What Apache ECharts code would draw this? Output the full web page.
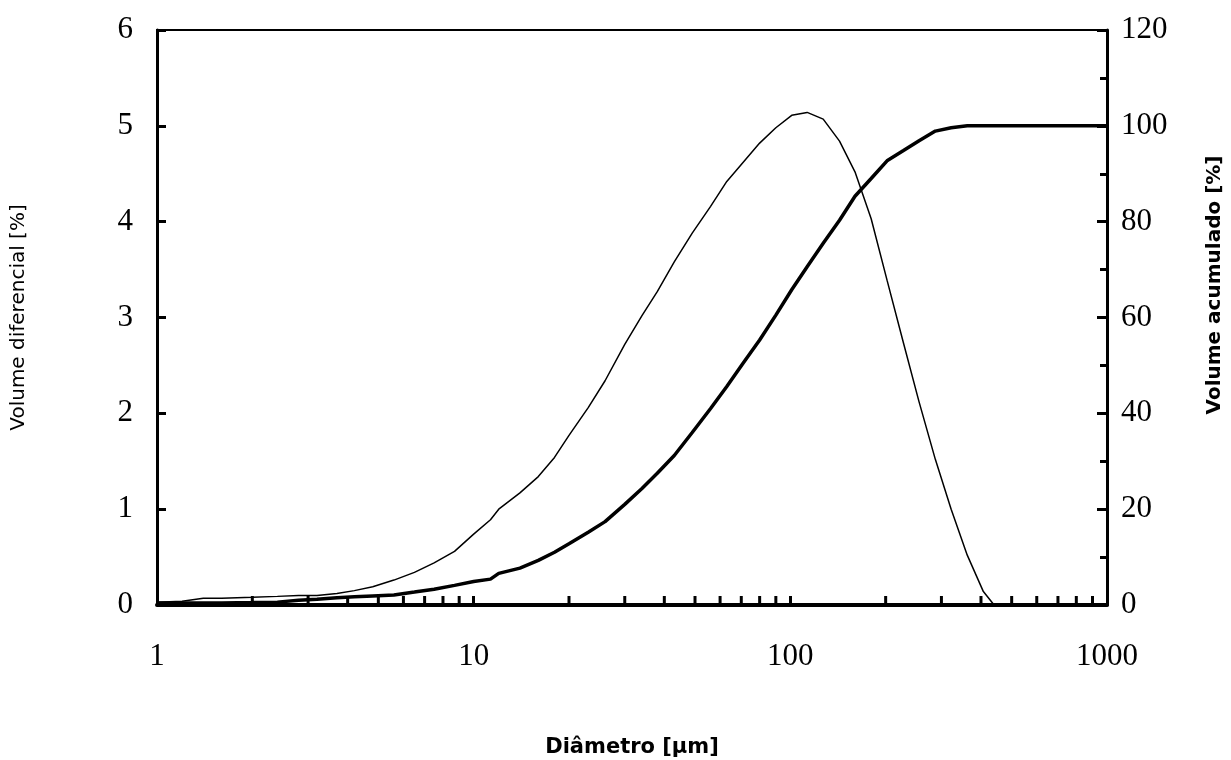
<!DOCTYPE html>
<html>
<head>
<meta charset="utf-8">
<script src="https://cdn.jsdelivr.net/npm/echarts@6/dist/echarts.min.js"></script>
<style>
  html, body { margin: 0; padding: 0; background: #fff; }
  #chart { width: 1231px; height: 760px; }
</style>
</head>
<body>
<div id="chart"></div>
<script>
// diameters [µm]
var diameters = [1.0, 1.2, 1.4, 1.6, 2.0, 2.4, 2.8, 3.2, 3.7, 4.2,
  4.8, 5.6, 6.5, 7.5, 8.7, 10, 11.3, 12, 14, 16,
  18, 20, 23, 26, 30, 34, 38, 43, 49, 56,
  63, 71, 80, 90, 101, 113, 127, 143, 160, 180,
  202, 227, 255, 287, 322, 362, 407, 440, 500, 1000];
// volume diferencial [%]
var volDiferencial = [0.03, 0.04, 0.07, 0.07, 0.08, 0.09, 0.10, 0.10, 0.12, 0.15,
  0.19, 0.26, 0.34, 0.44, 0.56, 0.74, 0.89, 1.0, 1.17, 1.34,
  1.54, 1.77, 2.06, 2.34, 2.72, 3.02, 3.27, 3.58, 3.88, 4.16,
  4.42, 4.62, 4.82, 4.98, 5.11, 5.14, 5.07, 4.84, 4.52, 4.03,
  3.39, 2.75, 2.12, 1.52, 1.0, 0.52, 0.14, 0, 0, 0];
// volume acumulado [%]
var volAcumulado = [0.4, 0.4, 0.4, 0.4, 0.5, 0.6, 1.0, 1.2, 1.5, 1.7,
  1.9, 2.1, 2.7, 3.3, 4.1, 4.9, 5.4, 6.6, 7.7, 9.3,
  11.0, 12.8, 15.2, 17.4, 21.0, 24.3, 27.5, 31.2, 36.0, 41.0,
  45.6, 50.5, 55.3, 60.5, 65.8, 70.6, 75.5, 80.3, 85.3, 89.0,
  92.7, 94.8, 96.9, 98.9, 99.6, 100, 100, 100, 100, 100];
// minor ticks of the log axis
var xMinorTicks = [2, 3, 4, 5, 6, 7, 8, 9, 20, 30, 40, 50, 60, 70, 80, 90,
  200, 300, 400, 500, 600, 700, 800, 900];

var chart = echarts.init(document.getElementById("chart"));

function pairs(xs, ys) {
  return xs.map(function (x, i) { return [x, ys[i]]; });
}

var numFont = { color: "#000", fontFamily: "Liberation Serif", fontSize: 31 };

var option = {
  animation: false,
  grid: {
    left: 157, right: 124, top: 30, bottom: 155,
    outerBoundsMode: "none",
    show: true, borderColor: "#000", borderWidth: 2
  },
  xAxis: {
    type: "log", logBase: 10, min: 1, max: 1000,
    name: "Diâmetro [µm]",
    nameLocation: "middle",
    nameGap: 132,
    nameTextStyle: { color: "#000", fontFamily: "DejaVu Sans", fontWeight: "bold", fontSize: 21 },
    axisLine: { lineStyle: { color: "#000", width: 4 } },
    axisTick: { inside: true, length: 9, lineStyle: { color: "#000", width: 3 } },
    axisLabel: Object.assign({
      margin: 36,
      formatter: function (v) { return String(v); }
    }, numFont),
    splitLine: { show: false }
  },
  yAxis: [
    {
      type: "value", min: 0, max: 6, interval: 1,
      name: "Volume diferencial [%]",
      nameLocation: "middle",
      nameGap: 128,
      nameTextStyle: { color: "#000", fontFamily: "DejaVu Sans", fontSize: 20 },
      axisLine: { show: true, lineStyle: { color: "#000", width: 3 } },
      axisTick: { show: true, inside: true, length: 9, lineStyle: { color: "#000", width: 3 } },
      axisLabel: Object.assign({ margin: 24 }, numFont),
      splitLine: { show: false }
    },
    {
      type: "value", min: 0, max: 120, interval: 20,
      position: "right",
      axisLine: { show: true, lineStyle: { color: "#000", width: 3 } },
      axisTick: { show: true, inside: true, length: 10, lineStyle: { color: "#000", width: 3 } },
      minorTick: { show: true, splitNumber: 2, length: 7, lineStyle: { color: "#000", width: 3 } },
      axisLabel: Object.assign({ margin: 14 }, numFont),
      splitLine: { show: false }
    }
  ],
  graphic: [
    {
      type: "text",
      x: 1215, y: 285,
      rotation: Math.PI / 2,
      style: {
        text: "Volume acumulado [%]",
        fill: "#000",
        font: "bold 20px 'DejaVu Sans'",
        align: "center",
        verticalAlign: "middle"
      }
    }
  ],
  series: [
    {
      name: "diferencial",
      type: "line",
      yAxisIndex: 0,
      showSymbol: false,
      lineStyle: { color: "#000", width: 1.5 },
      data: pairs(diameters, volDiferencial),
      z: 3
    },
    {
      name: "acumulado",
      type: "line",
      yAxisIndex: 1,
      showSymbol: false,
      lineStyle: { color: "#000", width: 3.5 },
      data: pairs(diameters, volAcumulado),
      z: 3
    },
    {
      name: "minor",
      type: "custom",
      yAxisIndex: 0,
      silent: true,
      data: xMinorTicks.map(function (v) { return [v, 0]; }),
      renderItem: function (params, api) {
        var p = api.coord([api.value(0), 0]);
        return {
          type: "line",
          shape: { x1: p[0], y1: p[1], x2: p[0], y2: p[1] - 9 },
          style: { stroke: "#000", lineWidth: 3 }
        };
      },
      z: 4
    }
  ]
};

chart.setOption(option);
window.addEventListener("resize", function () {
  chart.resize();
});
</script>
</body>
</html>
